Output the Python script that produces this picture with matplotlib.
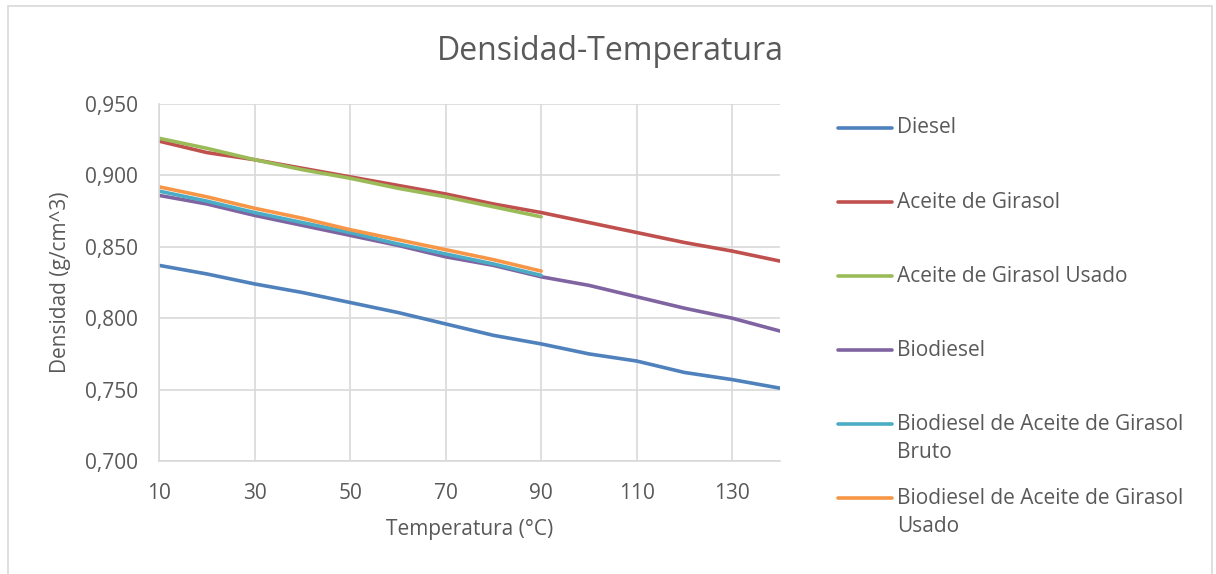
import matplotlib
matplotlib.use("Agg")
import matplotlib.pyplot as plt
from matplotlib.lines import Line2D
from matplotlib.patches import Rectangle
from matplotlib.ticker import FuncFormatter

plt.rcParams['font.family'] = ['Open Sans', 'DejaVu Sans']

temp_full = [10, 20, 30, 40, 50, 60, 70, 80, 90, 100, 110, 120, 130, 140]
temp_short = [10, 20, 30, 40, 50, 60, 70, 80, 90]

diesel = [0.837, 0.831, 0.824, 0.818, 0.811, 0.804, 0.796, 0.788, 0.782, 0.775, 0.770, 0.762, 0.757, 0.751]
aceite = [0.924, 0.916, 0.911, 0.905, 0.899, 0.893, 0.887, 0.880, 0.874, 0.867, 0.860, 0.853, 0.847, 0.840]
aceite_usado = [0.926, 0.919, 0.911, 0.904, 0.898, 0.891, 0.885, 0.878, 0.871]
biodiesel = [0.886, 0.880, 0.872, 0.865, 0.858, 0.851, 0.843, 0.837, 0.829, 0.823, 0.815, 0.807, 0.800, 0.791]
bio_bruto = [0.889, 0.882, 0.874, 0.867, 0.860, 0.852, 0.845, 0.838, 0.830]
bio_usado = [0.892, 0.885, 0.877, 0.870, 0.862, 0.855, 0.848, 0.841, 0.833]

labels = ["Diesel", "Aceite de Girasol", "Aceite de Girasol Usado", "Biodiesel",
          "Biodiesel de Aceite de Girasol\nBruto", "Biodiesel de Aceite de Girasol\nUsado"]
colors = ["#4F81BD", "#C0504D", "#9BBB59", "#8064A2", "#4BACC6", "#F79646"]

x_ticks = [10, 30, 50, 70, 90, 110, 130]
y_ticks = [0.700, 0.750, 0.800, 0.850, 0.900, 0.950]

W, H = 1216, 574
fig = plt.figure(figsize=(W / 100, H / 100), dpi=100)
txt = "#595959"
grid = "#D9D9D9"
fs = 15

# chart border
fig.add_artist(Rectangle((8 / W, -0.05), (1212 - 8) / W, 1.05 - 6 / H,
                         transform=fig.transFigure, fill=False, edgecolor=grid, lw=1.2))

L, R, T, B = 159, 780, 104, 461
ax = fig.add_axes([L / W, (H - B) / H, (R - L) / W, (B - T) / H])

series = [(temp_full, diesel), (temp_full, aceite), (temp_short, aceite_usado),
          (temp_full, biodiesel), (temp_short, bio_bruto), (temp_short, bio_usado)]
for (xs, ys), c in zip(series, colors):
    ax.plot(xs, ys, color=c, lw=2.6, solid_capstyle='round', solid_joinstyle='round')

ax.set_xlim(10, 140)
ax.set_ylim(0.700, 0.950)
ax.set_xticks(x_ticks)
ax.set_yticks(y_ticks)
ax.yaxis.set_major_formatter(FuncFormatter(lambda v, p: f"{v:.3f}".replace('.', ',')))
ax.grid(True, color=grid, lw=1.2)
ax.set_axisbelow(True)
for s in ['top', 'right']:
    ax.spines[s].set_visible(False)
for s in ['left', 'bottom']:
    ax.spines[s].set_color(grid)
    ax.spines[s].set_linewidth(1.2)
ax.tick_params(length=0, colors=txt, labelsize=fs)
ax.tick_params(axis='x', pad=16)
ax.tick_params(axis='y', pad=15)

ax.set_xlabel("Temperatura (°C)", color=txt, fontsize=fs, labelpad=11)
ax.set_ylabel("Densidad (g/cm^3)", color=txt, fontsize=fs, labelpad=10)

fig.text(610 / W, 1 - 52 / H, "Densidad-Temperatura", ha='center', va='center',
         color=txt, fontsize=23)

# legend
ys_leg = [128, 202, 276, 350, 424, 498]
for yl, lab, c in zip(ys_leg, labels, colors):
    fy = 1 - yl / H
    fig.add_artist(Line2D([838 / W, 892 / W], [fy, fy], transform=fig.transFigure,
                          color=c, lw=2.6, solid_capstyle='round'))
    fig.text(897 / W, fy, lab.split("\n")[0], ha='left', va='center', color=txt, fontsize=fs)
    if "\n" in lab:
        fig.text(897 / W, 1 - (yl + 29) / H, lab.split("\n")[1], ha='left', va='center',
                 color=txt, fontsize=fs)

fig.savefig("out.png", dpi=100)
